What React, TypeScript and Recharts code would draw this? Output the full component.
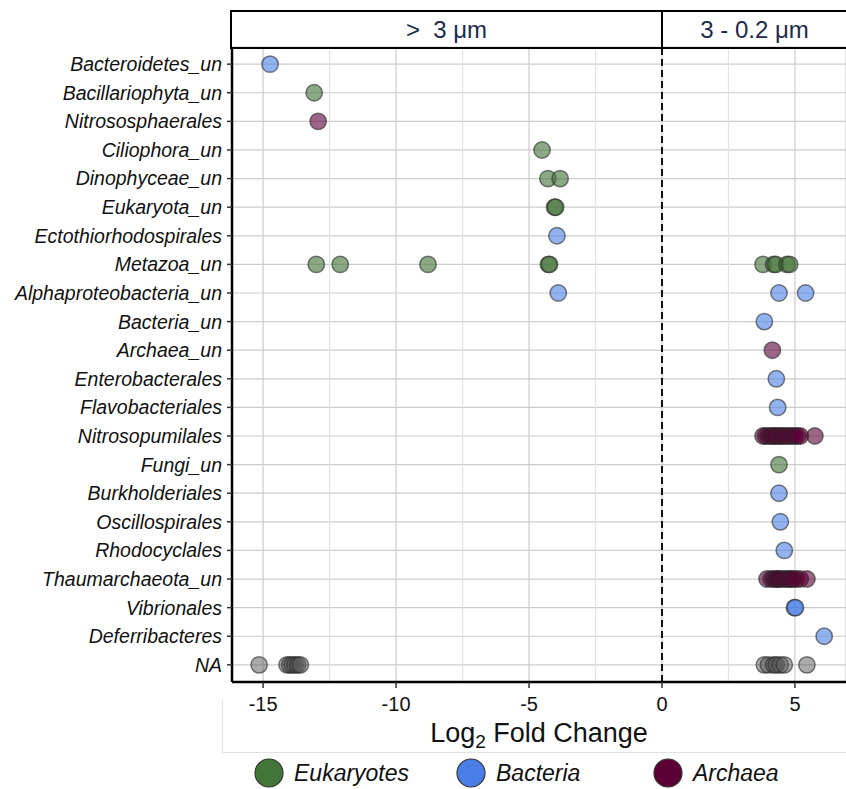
import React from 'react';
import {
  ScatterChart,
  Scatter,
  XAxis,
  YAxis,
  CartesianGrid,
  ReferenceLine,
} from 'recharts';

// taxa, top to bottom
const taxa = [
  'Bacteroidetes_un',
  'Bacillariophyta_un',
  'Nitrososphaerales',
  'Ciliophora_un',
  'Dinophyceae_un',
  'Eukaryota_un',
  'Ectothiorhodospirales',
  'Metazoa_un',
  'Alphaproteobacteria_un',
  'Bacteria_un',
  'Archaea_un',
  'Enterobacterales',
  'Flavobacteriales',
  'Nitrosopumilales',
  'Fungi_un',
  'Burkholderiales',
  'Oscillospirales',
  'Rhodocyclales',
  'Thaumarchaeota_un',
  'Vibrionales',
  'Deferribacteres',
  'NA',
];

// [taxon, log2 fold change]
const eukaryotes: [string, number][] = [
  ['Bacillariophyta_un', -13.08],
  ['Ciliophora_un', -4.51],
  ['Dinophyceae_un', -4.29],
  ['Dinophyceae_un', -3.83],
  ['Eukaryota_un', -4.04],
  ['Eukaryota_un', -4.0],
  ['Metazoa_un', -13.0],
  ['Metazoa_un', -12.1],
  ['Metazoa_un', -8.8],
  ['Metazoa_un', -4.27],
  ['Metazoa_un', -4.23],
  ['Metazoa_un', 3.8],
  ['Metazoa_un', 4.2],
  ['Metazoa_un', 4.28],
  ['Metazoa_un', 4.7],
  ['Metazoa_un', 4.8],
  ['Fungi_un', 4.4],
];

const bacteria: [string, number][] = [
  ['Bacteroidetes_un', -14.74],
  ['Ectothiorhodospirales', -3.95],
  ['Alphaproteobacteria_un', -3.9],
  ['Alphaproteobacteria_un', 4.4],
  ['Alphaproteobacteria_un', 5.4],
  ['Bacteria_un', 3.85],
  ['Enterobacterales', 4.3],
  ['Flavobacteriales', 4.35],
  ['Burkholderiales', 4.4],
  ['Oscillospirales', 4.45],
  ['Rhodocyclales', 4.6],
  ['Vibrionales', 4.98],
  ['Vibrionales', 5.02],
  ['Deferribacteres', 6.1],
];

const archaea: [string, number][] = [
  ['Nitrososphaerales', -12.93],
  ['Archaea_un', 4.15],
  ['Nitrosopumilales', 3.8],
  ['Nitrosopumilales', 3.9],
  ['Nitrosopumilales', 4.0],
  ['Nitrosopumilales', 4.1],
  ['Nitrosopumilales', 4.2],
  ['Nitrosopumilales', 4.25],
  ['Nitrosopumilales', 4.35],
  ['Nitrosopumilales', 4.45],
  ['Nitrosopumilales', 4.5],
  ['Nitrosopumilales', 4.6],
  ['Nitrosopumilales', 4.7],
  ['Nitrosopumilales', 4.8],
  ['Nitrosopumilales', 4.9],
  ['Nitrosopumilales', 5.0],
  ['Nitrosopumilales', 5.1],
  ['Nitrosopumilales', 5.2],
  ['Nitrosopumilales', 5.75],
  ['Thaumarchaeota_un', 3.95],
  ['Thaumarchaeota_un', 4.1],
  ['Thaumarchaeota_un', 4.2],
  ['Thaumarchaeota_un', 4.3],
  ['Thaumarchaeota_un', 4.35],
  ['Thaumarchaeota_un', 4.4],
  ['Thaumarchaeota_un', 4.5],
  ['Thaumarchaeota_un', 4.6],
  ['Thaumarchaeota_un', 4.7],
  ['Thaumarchaeota_un', 4.8],
  ['Thaumarchaeota_un', 4.85],
  ['Thaumarchaeota_un', 4.95],
  ['Thaumarchaeota_un', 5.05],
  ['Thaumarchaeota_un', 5.2],
  ['Thaumarchaeota_un', 5.45],
];

const unassigned: [string, number][] = [
  ['NA', -15.15],
  ['NA', -14.1],
  ['NA', -14.0],
  ['NA', -13.9],
  ['NA', -13.8],
  ['NA', -13.7],
  ['NA', -13.6],
  ['NA', 3.85],
  ['NA', 4.0],
  ['NA', 4.2],
  ['NA', 4.3],
  ['NA', 4.45],
  ['NA', 4.6],
  ['NA', 5.45],
];

const xTicks = [-15, -10, -5, 0, 5];
const xMinorGrid = [-12.5, -7.5, -2.5, 2.5];

const FONT = '"Liberation Sans", Arial, Helvetica, sans-serif';

const toPoints = (rows: [string, number][]) =>
  rows.map(([taxon, lfc]) => ({ x: lfc, y: taxa.indexOf(taxon) + 1 }));

const groups = [
  { name: 'Eukaryotes', color: '#437538', data: toPoints(eukaryotes), opacity: 0.62 },
  { name: 'Bacteria', color: '#4a7ee6', data: toPoints(bacteria), opacity: 0.6 },
  { name: 'Archaea', color: '#5c0036', data: toPoints(archaea), opacity: 0.6 },
  { name: 'NA', color: '#555555', data: toPoints(unassigned), opacity: 0.5 },
];

const dot = (color: string, opacity: number) => (props: any) => (
  <circle
    cx={props.cx}
    cy={props.cy}
    r={8.2}
    fill={color}
    fillOpacity={opacity}
    stroke="#2a2a2a"
    strokeOpacity={0.6}
    strokeWidth={1.5}
  />
);

const legendItems = groups.slice(0, 3);
const legendX = [269, 471, 668];

export default function App() {
  return (
    <div
      style={{
        position: 'absolute',
        left: 0,
        top: 0,
        width: 846,
        height: 789,
        overflow: 'hidden',
        background: '#fff',
        fontFamily: FONT,
      }}
    >
      <ScatterChart
        width={846}
        height={789}
        margin={{ top: 47, right: 0, left: 12, bottom: 67 }}
      >
        <CartesianGrid stroke="#cccccc" strokeWidth={1.2} />
        {xMinorGrid.map((v) => (
          <ReferenceLine key={v} x={v} stroke="#e3e3e3" strokeWidth={1.2} />
        ))}
        <ReferenceLine x={0} stroke="#111" strokeWidth={2} strokeDasharray="7 4" />
        <XAxis
          type="number"
          dataKey="x"
          domain={[-16.17, 6.92]}
          ticks={xTicks}
          allowDataOverflow
          height={40}
          tickSize={6}
          tickMargin={9}
          axisLine={{ stroke: '#000', strokeWidth: 2.5 }}
          tickLine={{ stroke: '#333', strokeWidth: 1.5 }}
          tick={{ fontSize: 20, fill: '#111', fontFamily: FONT }}
        />
        <YAxis
          type="number"
          dataKey="y"
          domain={[0.4, 22.6]}
          reversed
          ticks={taxa.map((_, i) => i + 1)}
          interval={0}
          width={220}
          tickSize={5}
          tickMargin={5}
          tickFormatter={(v: number) => taxa[v - 1] ?? ''}
          axisLine={{ stroke: '#000', strokeWidth: 2.5 }}
          tickLine={{ stroke: '#333', strokeWidth: 1.5 }}
          tick={{ fontSize: 19.5, fill: '#111', fontStyle: 'italic', fontFamily: FONT }}
        />
        {groups.map((g) => (
          <Scatter
            key={g.name}
            name={g.name}
            data={g.data}
            shape={dot(g.color, g.opacity)}
            isAnimationActive={false}
          />
        ))}
      </ScatterChart>

      {/* facet header */}
      <div
        style={{
          position: 'absolute',
          left: 230,
          top: 10,
          width: 700,
          height: 35,
          border: '2px solid #000',
          boxSizing: 'content-box',
        }}
      />
      <div
        style={{
          position: 'absolute',
          left: 661,
          top: 10,
          width: 2,
          height: 39,
          background: '#000',
        }}
      />
      <div
        style={{
          position: 'absolute',
          left: 232,
          top: 12,
          width: 429,
          height: 35,
          lineHeight: '35px',
          textAlign: 'center',
          fontSize: 24,
          color: '#1c2a4d',
          whiteSpace: 'pre',
        }}
      >
        {'>  3 μm'}
      </div>
      <div
        style={{
          position: 'absolute',
          left: 663,
          top: 12,
          width: 183,
          height: 35,
          lineHeight: '35px',
          textAlign: 'center',
          fontSize: 24,
          color: '#1c2a4d',
        }}
      >
        3 - 0.2 μm
      </div>

      {/* axis title */}
      <div
        style={{
          position: 'absolute',
          left: 232,
          top: 718,
          width: 614,
          textAlign: 'center',
          fontSize: 27,
          color: '#111',
        }}
      >
        Log<sub style={{ fontSize: 19, verticalAlign: '-0.3em', lineHeight: 0 }}>2</sub> Fold Change
      </div>

      {/* faint frame lines */}
      <div style={{ position: 'absolute', left: 222, top: 700, width: 1, height: 52, background: '#e2e2e2' }} />
      <div style={{ position: 'absolute', left: 222, top: 752, width: 624, height: 1, background: '#e2e2e2' }} />

      {/* legend */}
      {legendItems.map((g, i) => (
        <div
          key={g.name}
          style={{
            position: 'absolute',
            left: legendX[i] - 15,
            top: 758,
            height: 30,
            display: 'flex',
            alignItems: 'center',
          }}
        >
          <svg width={30} height={30}>
            <circle cx={15} cy={15} r={14} fill={g.color} stroke="#333" strokeWidth={1.2} />
          </svg>
          <span style={{ marginLeft: 10, fontSize: 23, fontStyle: 'italic', color: '#111' }}>
            {g.name}
          </span>
        </div>
      ))}
    </div>
  );
}
